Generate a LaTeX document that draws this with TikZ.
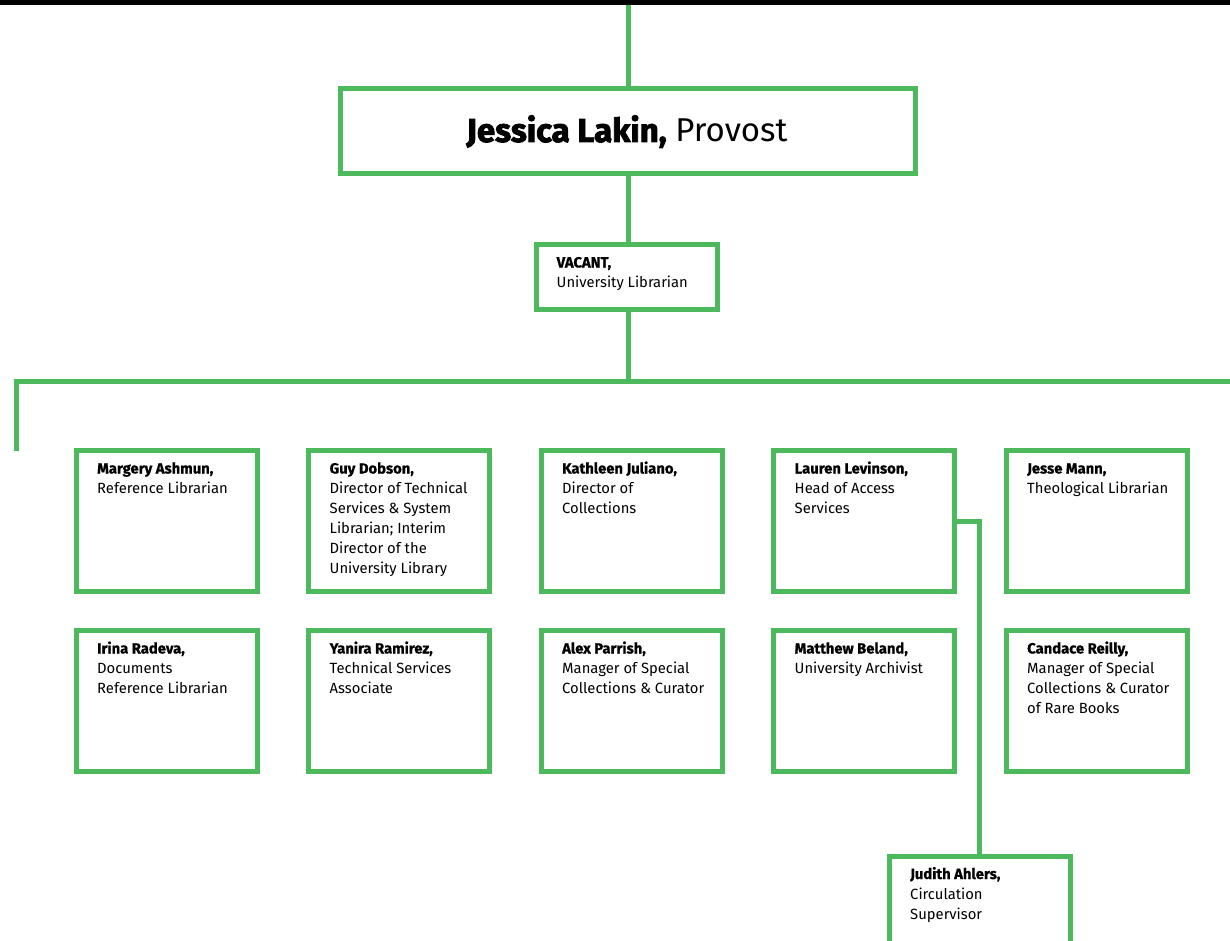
\documentclass[tikz,border=0pt]{standalone}
\usepackage{fontspec}
\setmainfont{Fira Sans}[BoldFont={* Bold}, BoldFeatures={FakeBold=0.8}]
\newfontfamily\heavyfont{Fira Sans Bold}[FakeBold=2.5]
\definecolor{grn}{RGB}{76,185,92}
\newcommand\bxtext[2]{\parbox[t]{170pt}{\raggedright\textbf{#1}\\#2}}
\tikzset{
  box/.style={draw=grn, line width=5pt, rectangle, inner sep=0pt, minimum width=181pt, minimum height=141pt},
  conn/.style={draw=grn, line width=5pt},
  txt/.style={anchor=base west, inner sep=0pt, font=\fontsize{14.8}{20}\selectfont}
}
\begin{document}
\begin{tikzpicture}[x=1pt,y=-1pt]
\clip (0,0) rectangle (1230,941);
\fill[white] (0,0) rectangle (1230,941);
\fill[black] (0,0) rectangle (1230,5);
% top boxes
\node[box, minimum width=575pt, minimum height=85pt] (jl) at (628,131) {};
\node[inner sep=0pt, anchor=base, font=\fontsize{33}{36}\selectfont] (jlt) at (627,142) {{\heavyfont Jessica Lakin,} Provost};
\node[box, minimum height=65pt] (ul) at (627,277) {};
\node[txt] (ult) at ([shift={(22.5,25.5)}]ul.north west) {\bxtext{VACANT,}{University Librarian}};
% row 1
\node[box] (b11) at (166.5,521) {};
\node[box] (b12) at (399,521) {};
\node[box] (b13) at (631.5,521) {};
\node[box] (b14) at (864,521) {};
\node[box] (b15) at (1096.5,521) {};
% row 2
\node[box] (b21) at (166.5,701) {};
\node[box] (b22) at (399,701) {};
\node[box] (b23) at (631.5,701) {};
\node[box] (b24) at (864,701) {};
\node[box] (b25) at (1096.5,701) {};
% Judith
\node[box] (ja) at (979.5,926.5) {};
% texts
\node[txt] (t11) at ([shift={(23.5,25.5)}]b11.north west) {\bxtext{Margery Ashmun,}{Reference Librarian}};
\node[txt] (t12) at ([shift={(23.5,25.5)}]b12.north west) {\bxtext{Guy Dobson,}{Director of Technical\\Services \& System\\Librarian; Interim\\Director of the\\University Library}};
\node[txt] (t13) at ([shift={(23.5,25.5)}]b13.north west) {\bxtext{Kathleen Juliano,}{Director of\\Collections}};
\node[txt] (t14) at ([shift={(23.5,25.5)}]b14.north west) {\bxtext{Lauren Levinson,}{Head of Access\\Services}};
\node[txt] (t15) at ([shift={(23.5,25.5)}]b15.north west) {\bxtext{Jesse Mann,}{Theological Librarian}};
\node[txt] (t21) at ([shift={(23.5,25.5)}]b21.north west) {\bxtext{Irina Radeva,}{Documents\\Reference Librarian}};
\node[txt] (t22) at ([shift={(23.5,25.5)}]b22.north west) {\bxtext{Yanira Ramirez,}{Technical Services\\Associate}};
\node[txt] (t23) at ([shift={(23.5,25.5)}]b23.north west) {\bxtext{Alex Parrish,}{Manager of Special\\Collections \& Curator}};
\node[txt] (t24) at ([shift={(23.5,25.5)}]b24.north west) {\bxtext{Matthew Beland,}{University Archivist}};
\node[txt] (t25) at ([shift={(23.5,25.5)}]b25.north west) {\bxtext{Candace Reilly,}{Manager of Special\\Collections \& Curator\\of Rare Books}};
\node[txt] (tja) at ([shift={(23.5,25.5)}]ja.north west) {\bxtext{Judith Ahlers,}{Circulation\\Supervisor}};
% connectors
\coordinate (top) at (628,5);
\coordinate (hub) at (628,381);
\coordinate (hr) at (1235,381);
\coordinate (hl) at (16.5,381);
\coordinate (hd) at (16.5,451);
\draw[conn] (top) -- (jl.north);
\draw[conn] (jl.south) -- (jl.south |- ul.north);
\draw[conn] (jl.south |- ul.south) -- (hub);
\draw[conn] (hr) -- (hl) -- (hd);
\draw[conn] (b14.east) -| (ja.north);
\end{tikzpicture}
\end{document}
